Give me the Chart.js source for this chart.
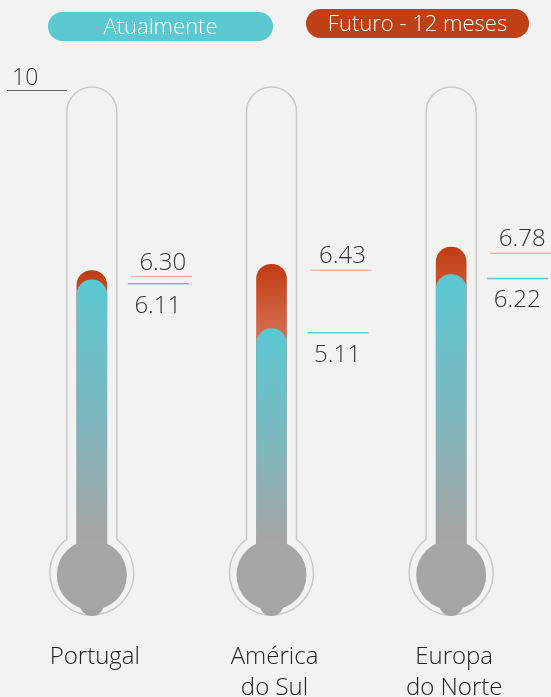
<!DOCTYPE html>
<html>
<head>
<meta charset="utf-8">
<script src="https://cdn.jsdelivr.net/npm/chart.js@4"></script>
<style>
  html, body { margin: 0; padding: 0; background: #F2F2F2; }
  #wrap { width: 551px; height: 697px; }
</style>
</head>
<body>
<div id="wrap"><canvas id="c" width="551" height="697"></canvas></div>
<script>
// Índice por região: situação atual e expectativa a 12 meses (escala 0–10)
const categories = ['Portugal', ['América', 'do Sul'], ['Europa', 'do Norte']];
const atualmente = [6.11, 5.11, 6.22];
const futuro = [6.30, 6.43, 6.78];
const seriesNames = ['Atualmente', 'Futuro - 12 meses'];
const yTicks = [10];

const CYAN = '#5BC8D2';
const ORANGE = '#C13F16';
const GREY = '#A6A6A6';
const FONT = '"Open Sans", "Segoe UI", sans-serif';

function barGradient(stops) {
  return (ctx) => {
    const chart = ctx.chart;
    if (!chart.chartArea || ctx.raw == null) return stops[0][1];
    const y = chart.scales.y;
    const g = chart.ctx.createLinearGradient(0, y.getPixelForValue(ctx.raw), 0, y.getPixelForValue(0));
    stops.forEach(s => g.addColorStop(s[0], s[1]));
    return g;
  };
}

const thermo = {
  id: 'thermo',
  beforeDatasetsDraw(chart) {
    const { ctx, scales: { x, y } } = chart;
    const rTube = 25, R = 42;
    const top = y.getPixelForValue(10) - 3;
    const cy = y.getPixelForValue(0) - 5;
    const dy = Math.sqrt(R * R - rTube * rTube);
    const a = Math.atan2(dy, rTube);
    ctx.save();
    ctx.strokeStyle = '#C9C9C9';
    ctx.lineWidth = 1.5;
    categories.forEach((_, i) => {
      const cx = x.getPixelForValue(i);
      ctx.beginPath();
      ctx.moveTo(cx - rTube, cy - dy);
      ctx.lineTo(cx - rTube, top + rTube);
      ctx.arc(cx, top + rTube, rTube, Math.PI, 0, false);
      ctx.lineTo(cx + rTube, cy - dy);
      ctx.arc(cx, cy, R, -a, Math.PI + a, false);
      ctx.closePath();
      ctx.stroke();
    });
    ctx.restore();
  },
  afterDatasetsDraw(chart) {
    const { ctx, scales: { x, y } } = chart;
    const y0 = y.getPixelForValue(0);
    ctx.save();
    // bulbs
    categories.forEach((_, i) => {
      const cx = x.getPixelForValue(i);
      ctx.fillStyle = '#A3A3A3';
      ctx.beginPath();
      ctx.arc(cx, y0 + 26, 12, 0, Math.PI * 2);
      ctx.fill();
      ctx.fillStyle = GREY;
      ctx.beginPath();
      ctx.arc(cx, y0 - 3, 35, 0, Math.PI * 2);
      ctx.fill();
    });

    // value labels with leader lines
    ctx.font = '300 24px ' + FONT;
    ctx.textAlign = 'center';
    categories.forEach((_, i) => {
      const cx = x.getPixelForValue(i);
      const yf = y.getPixelForValue(futuro[i]) + 6;
      ctx.strokeStyle = '#F3B7A4';
      ctx.lineWidth = 1.5;
      ctx.beginPath();
      ctx.moveTo(cx + 39, yf); ctx.lineTo(cx + 100, yf); ctx.stroke();
      ctx.fillStyle = '#333333';
      ctx.textBaseline = 'alphabetic';
      ctx.fillText(futuro[i].toFixed(2), cx + 71, yf - 7);

      const ya = y.getPixelForValue(atualmente[i]) + 4;
      ctx.strokeStyle = CYAN;
      ctx.beginPath();
      ctx.moveTo(cx + 36, ya); ctx.lineTo(cx + 97, ya); ctx.stroke();
      ctx.fillText(atualmente[i].toFixed(2), cx + 66, ya + 29);
    });

    // scale tick
    yTicks.forEach(t => {
      const ty = y.getPixelForValue(t);
      ctx.strokeStyle = '#666666';
      ctx.lineWidth = 1;
      ctx.beginPath();
      ctx.moveTo(7, ty + 0.5); ctx.lineTo(67, ty + 0.5); ctx.stroke();
      ctx.fillStyle = '#333333';
      ctx.textAlign = 'left';
      ctx.font = '300 23px ' + FONT;
      ctx.fillText(String(t), 12, ty - 5);
    });

    // category labels
    ctx.fillStyle = '#222222';
    ctx.textAlign = 'center';
    ctx.font = '300 24px ' + FONT;
    categories.forEach((c, i) => {
      const cx = x.getPixelForValue(i) + 3;
      const lines = Array.isArray(c) ? c : [c];
      lines.forEach((l, k) => ctx.fillText(l, cx, 664 + k * 31));
    });

    // legend pills
    const pills = [
      { text: seriesNames[0], color: CYAN, x: 48, y: 12, w: 225 },
      { text: seriesNames[1], color: ORANGE, x: 306, y: 9, w: 223 }
    ];
    ctx.font = '300 22px ' + FONT;
    pills.forEach(p => {
      const h = 29, r = 14.5;
      ctx.fillStyle = p.color;
      ctx.beginPath();
      ctx.roundRect(p.x, p.y, p.w, h, r);
      ctx.fill();
      ctx.fillStyle = '#FFFFFF';
      ctx.textBaseline = 'middle';
      ctx.fillText(p.text, p.x + p.w / 2, p.y + h / 2 + 1);
    });
    ctx.restore();
  }
};

new Chart(document.getElementById('c'), {
  type: 'bar',
  data: {
    labels: categories,
    datasets: [
      {
        label: seriesNames[0],
        data: atualmente,
        grouped: false,
        barThickness: 30,
        borderRadius: { topLeft: 15, topRight: 15, bottomLeft: 0, bottomRight: 0 },
        borderSkipped: 'start',
        backgroundColor: barGradient([[0, '#5BC8D2'], [0.45, '#7DB8BF'], [0.85, '#A5A5A5'], [1, '#A5A5A5']])
      },
      {
        label: seriesNames[1],
        data: futuro,
        grouped: false,
        barThickness: 30,
        borderRadius: { topLeft: 15, topRight: 15, bottomLeft: 0, bottomRight: 0 },
        borderSkipped: 'start',
        backgroundColor: barGradient([[0, '#C03C12'], [0.2, '#D2694B'], [0.35, '#AE6E5C'], [0.6, '#A5A5A5'], [1, '#A5A5A5']])
      }
    ]
  },
  options: {
    responsive: false,
    animation: false,
    devicePixelRatio: 1,
    layout: { padding: { top: 90, bottom: 119, left: 2, right: 10 } },
    plugins: { legend: { display: false }, tooltip: { enabled: false } },
    scales: {
      x: { display: false, offset: true },
      y: { display: false, min: 0, max: 10 }
    }
  },
  plugins: [thermo]
});
</script>
</body>
</html>
